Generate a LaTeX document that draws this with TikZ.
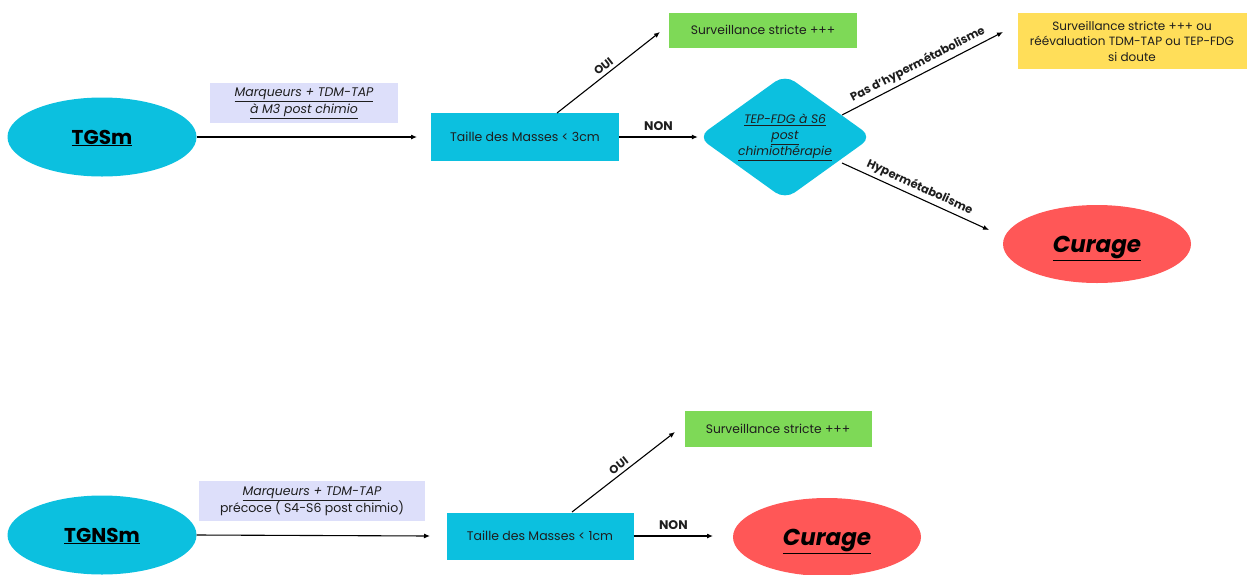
\documentclass[tikz,border=0pt]{standalone}
\usepackage{fontspec}
\setmainfont{Poppins}
\usepackage{xcolor}
\usetikzlibrary{shapes.geometric,arrows.meta}

\definecolor{bleu}{RGB}{12,192,223}
\definecolor{vert}{RGB}{126,217,87}
\definecolor{jaune}{RGB}{255,222,89}
\definecolor{rouge}{RGB}{255,87,87}
\definecolor{lavande}{RGB}{221,223,250}
\definecolor{encre}{RGB}{30,30,30}

\tikzset{
  flux/.style={-{Latex[length=6pt,width=5pt]}, line width=1.1pt},
  decision/.style={fill=bleu, minimum width=188pt, minimum height=48pt, inner sep=0pt, text=encre, font=\fontsize{12.5}{15}\selectfont},
  issue/.style={fill=vert, minimum width=188pt, minimum height=36pt, inner sep=0pt, text=encre, font=\fontsize{12.3}{15}\selectfont},
  patient/.style={ellipse, fill=bleu, minimum width=189pt, minimum height=79pt, inner sep=0pt, text depth=0pt, font=\fontsize{20}{22}\selectfont\bfseries},
  curage/.style={ellipse, fill=rouge, minimum width=188pt, minimum height=78pt, inner sep=0pt, text depth=0pt, font=\fontsize{23}{26}\selectfont\bfseries\itshape},
  bilan/.style={fill=lavande, inner sep=0pt, align=center, text=encre, font=\fontsize{12.5}{17}\selectfont},
  choix/.style={font=\fontsize{12.5}{14}\selectfont\bfseries, text=encre},
  pente/.style={font=\fontsize{11.5}{13}\selectfont\bfseries, text=encre},
}

\begin{document}
\begin{tikzpicture}[x=1pt,y=-1pt]
    \useasboundingbox (0,0) rectangle (1251,574);

    % TGSm
    \node[patient] (tgsm) at (102,137) {\underline{TGSm}};
    \node[bilan, minimum width=188pt, minimum height=40pt] (bilan1) at (304,103)
        {\itshape\underline{Marqueurs + TDM-TAP}\\ \itshape\underline{à M3 post chimio}};
    \node[decision] (taille1) at (525,137) {Taille des Masses < 3cm};
    \node[issue, minimum height=35pt] (surv1) at (763,30) {Surveillance stricte +++};
    \node[diamond, fill=bleu, rounded corners=12pt, minimum width=174pt, minimum height=125pt,
          inner sep=0pt, aspect=1.4, align=center, text=encre, font=\fontsize{12.3}{16}\selectfont\itshape] (tep) at (785,137)
        {\underline{TEP-FDG à S6}\\ \underline{post}\\ \underline{chimiothérapie}};
    \node[fill=jaune, minimum width=229pt, minimum height=56pt, inner sep=0pt, align=center, text=encre,
          font=\fontsize{12}{15.5}\selectfont] (surv2) at (1132,41)
        {Surveillance stricte +++ ou\\ réévaluation TDM-TAP ou TEP-FDG\\ si doute};
    \node[curage] (cur1) at (1097,244) {\underline{Curage}};

    \coordinate (a1) at (417,137);
    \coordinate (t1) at (557,113);
    \coordinate (o1) at (660,32);
    \coordinate (p1) at (842,115);
    \coordinate (p2) at (1003,32);
    \coordinate (h1) at (842,163);
    \coordinate (h2) at (989,230);

    \draw[flux] (tgsm.east) -- (a1);
    \draw[flux] (t1) -- node[pente, sloped, above] {OUI} (o1);
    \draw[flux] (taille1.east) -- node[choix, above=3pt] {NON} (tep.west);
    \draw[flux] (p1) -- node[pente, sloped, above, pos=0.5] {Pas d'hypermétabolisme} (p2);
    \draw[flux] (h1) -- node[pente, sloped, above, pos=0.5] {Hypermétabolisme} (h2);

    % TGNSm
    \node[patient] (tgnsm) at (102,535) {\underline{TGNSm}};
    \node[bilan, minimum width=226pt, minimum height=40pt] (bilan2) at (312,501)
        {\itshape\underline{Marqueurs + TDM-TAP}\\ précoce ( S4-S6 post chimio)};
    \node[decision, minimum height=47pt, minimum width=187pt] (taille2) at (540,536) {Taille des Masses < 1cm};
    \node[issue, minimum width=187pt] (surv3) at (778,429) {Surveillance stricte +++};
    \node[curage] (cur2) at (827,537) {\underline{Curage}};

    \coordinate (a2) at (430,536);
    \coordinate (t2) at (572,512);
    \coordinate (o2) at (675,432);
    \coordinate (n2) at (713,536);

    \draw[flux] (tgnsm.east) -- (a2);
    \draw[flux] (t2) -- node[pente, sloped, above] {OUI} (o2);
    \draw[flux] (taille2.east) -- node[choix, above=3pt] {NON} (n2);
\end{tikzpicture}
\end{document}
